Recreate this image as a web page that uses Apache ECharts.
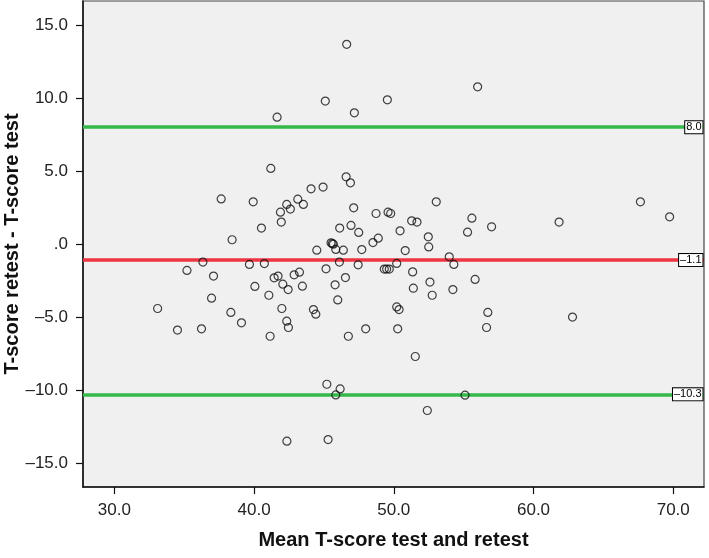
<!DOCTYPE html>
<html>
<head>
<meta charset="utf-8">
<script src="https://cdn.jsdelivr.net/npm/echarts@6/dist/echarts.min.js"></script>
<style>
html,body{margin:0;padding:0;background:#fff;}
#chart{width:709px;height:558px;}
</style>
</head>
<body>
<div id="chart"></div>
<script>
// Mean of test and retest (x) and difference retest - test (y)
const meanScore = [
46.63,45.10,41.65,47.18,49.54,56.00,41.20,46.59,46.90,37.65,
39.94,44.08,44.94,43.13,43.53,42.34,42.60,41.89,41.95,40.53,
38.43,47.13,48.73,49.59,49.78,46.13,46.94,47.49,48.89,48.51,
50.45,45.51,45.60,45.68,45.85,46.39,44.49,47.71,46.11,47.45,
36.34,39.67,40.74,37.10,41.44,41.72,42.06,42.44,42.87,43.25,
43.46,40.06,41.06,45.15,45.80,46.54,45.99,36.96,38.34,39.10,
36.24,41.99,44.25,44.42,42.34,42.46,41.15,46.75,33.10,34.52,
35.20,47.99,49.32,49.49,49.68,50.21,50.21,50.38,50.28,45.21,
46.16,45.85,42.35,45.30,53.04,67.65,69.74,61.83,57.00,55.59,
55.28,51.28,51.66,52.47,52.50,50.82,53.97,54.30,51.35,55.82,
51.40,52.59,52.75,54.23,56.73,56.64,62.79,51.54,55.10,52.40
];
const diffScore = [
13.68,9.79,8.69,8.99,9.88,10.77,5.18,4.60,4.19,3.09,
2.89,3.78,3.90,3.07,2.71,2.71,2.39,2.18,1.50,1.09,
0.29,2.48,2.09,2.18,2.09,1.09,1.27,0.79,0.40,0.10,
0.90,0.08,0.02,-0.01,-0.37,-0.42,-0.42,-0.38,-1.24,-1.43,
-1.24,-1.40,-1.34,-2.20,-2.32,-2.20,-2.75,-3.12,-2.11,-1.93,
-2.89,-2.91,-3.51,-1.70,-2.80,-2.30,-3.83,-3.71,-4.69,-5.40,
-5.81,-4.42,-4.49,-4.81,-5.29,-5.72,-6.32,-6.32,-4.42,-5.90,
-1.81,-5.81,-1.72,-1.72,-1.72,-1.33,-4.31,-4.49,-5.81,-9.61,
-9.93,-10.34,-13.51,-13.40,2.89,2.89,1.86,1.50,1.18,1.77,
0.81,1.59,1.50,0.49,-0.20,-0.45,-0.88,-1.40,-1.91,-2.43,
-3.03,-2.61,-3.51,-3.12,-4.69,-5.72,-5.01,-7.71,-10.36,-11.41
];
// Reference lines: upper limit, mean difference, lower limit
const limitNames = ['upper','mean','lower'];
const limitValues = [8.0, -1.1, -10.3];
const xTicks = [30, 40, 50, 60, 70];
const yTicks = [-15, -10, -5, 0, 5, 10, 15];
const xTitle = 'Mean T-score test and retest';
const yTitle = 'T-score retest - T-score test';

const X_MIN = 27.76, X_MAX = 72.2, Y_MIN = -16.65, Y_MAX = 16.65;
const FONT = "'Liberation Sans', Arial, sans-serif";
const fmt = v => v === 0 ? '.0' : (v < 0 ? '\u2013' + Math.abs(v).toFixed(1) : v.toFixed(1));
const lineColors = {upper:'#35b94a', mean:'#ee3542', lower:'#35b94a'};

const chart = echarts.init(document.getElementById('chart'), null, {renderer:'canvas'});
const points = meanScore.map((x,i)=>[x, diffScore[i]]);

chart.setOption({
  animation:false,
  backgroundColor:'#ffffff',
  grid:{left:83, right:5, top:1, bottom:71, containLabel:false, outerBoundsMode:'none',
        show:true, backgroundColor:'#f0f0f0', borderColor:'#444', borderWidth:1.2},
  xAxis:{
    type:'value', min:X_MIN, max:X_MAX,
    name:xTitle, nameLocation:'middle', nameGap:43, nameMoveOverlap:false,
    nameTextStyle:{fontFamily:FONT, fontWeight:'bold', fontSize:20, color:'#111'},
    splitLine:{show:false},
    axisLine:{show:true, onZero:false, lineStyle:{color:'#111', width:1.5}},
    axisTick:{show:true, length:7, lineStyle:{color:'#111', width:1.2}, customValues:xTicks},
    axisLabel:{customValues:xTicks, formatter:v=>fmt(v), fontFamily:FONT, fontSize:17, color:'#222', margin:15}
  },
  yAxis:{
    type:'value', min:Y_MIN, max:Y_MAX,
    name:yTitle, nameLocation:'middle', nameGap:61, nameRotate:90, nameMoveOverlap:false,
    nameTextStyle:{fontFamily:FONT, fontWeight:'bold', fontSize:20, color:'#111'},
    splitLine:{show:false},
    axisLine:{show:true, onZero:false, lineStyle:{color:'#111', width:1.5}},
    axisTick:{show:true, length:7, lineStyle:{color:'#111', width:1.2}, customValues:yTicks},
    axisLabel:{customValues:yTicks, formatter:v=>fmt(v), fontFamily:FONT, fontSize:17, color:'#222', margin:15}
  },
  series:[
    {
      type:'line', data:[], silent:true, z:2,
      markLine:{
        silent:true, symbol:['none','none'], label:{show:false}, z:2,
        data: limitValues.map((v,i)=>({yAxis:v, lineStyle:{color:lineColors[limitNames[i]], width:3.5, type:'solid', opacity:1}}))
      }
    },
    {
      type:'scatter', data:points, z:5,
      symbol:'circle', symbolSize:8,
      itemStyle:{color:'rgba(0,0,0,0)', borderColor:'#111', borderWidth:1.2}
    },
    {
      type:'scatter', z:20, zlevel:1, silent:true,
      data: limitValues.map(v=>[X_MAX, v]),
      symbolSize:1, itemStyle:{color:'rgba(0,0,0,0)'},
      label:{show:true, position:'left', distance:1,
        formatter:p=>fmt(p.value[1]),
        fontFamily:FONT, fontSize:11, color:'#000', lineHeight:11, opacity:1,
        textBorderWidth:0,
        backgroundColor:'#ffffff', borderColor:'#000', borderWidth:1, padding:[1,1,0,1]}
    }
  ]
});
</script>
</body>
</html>
